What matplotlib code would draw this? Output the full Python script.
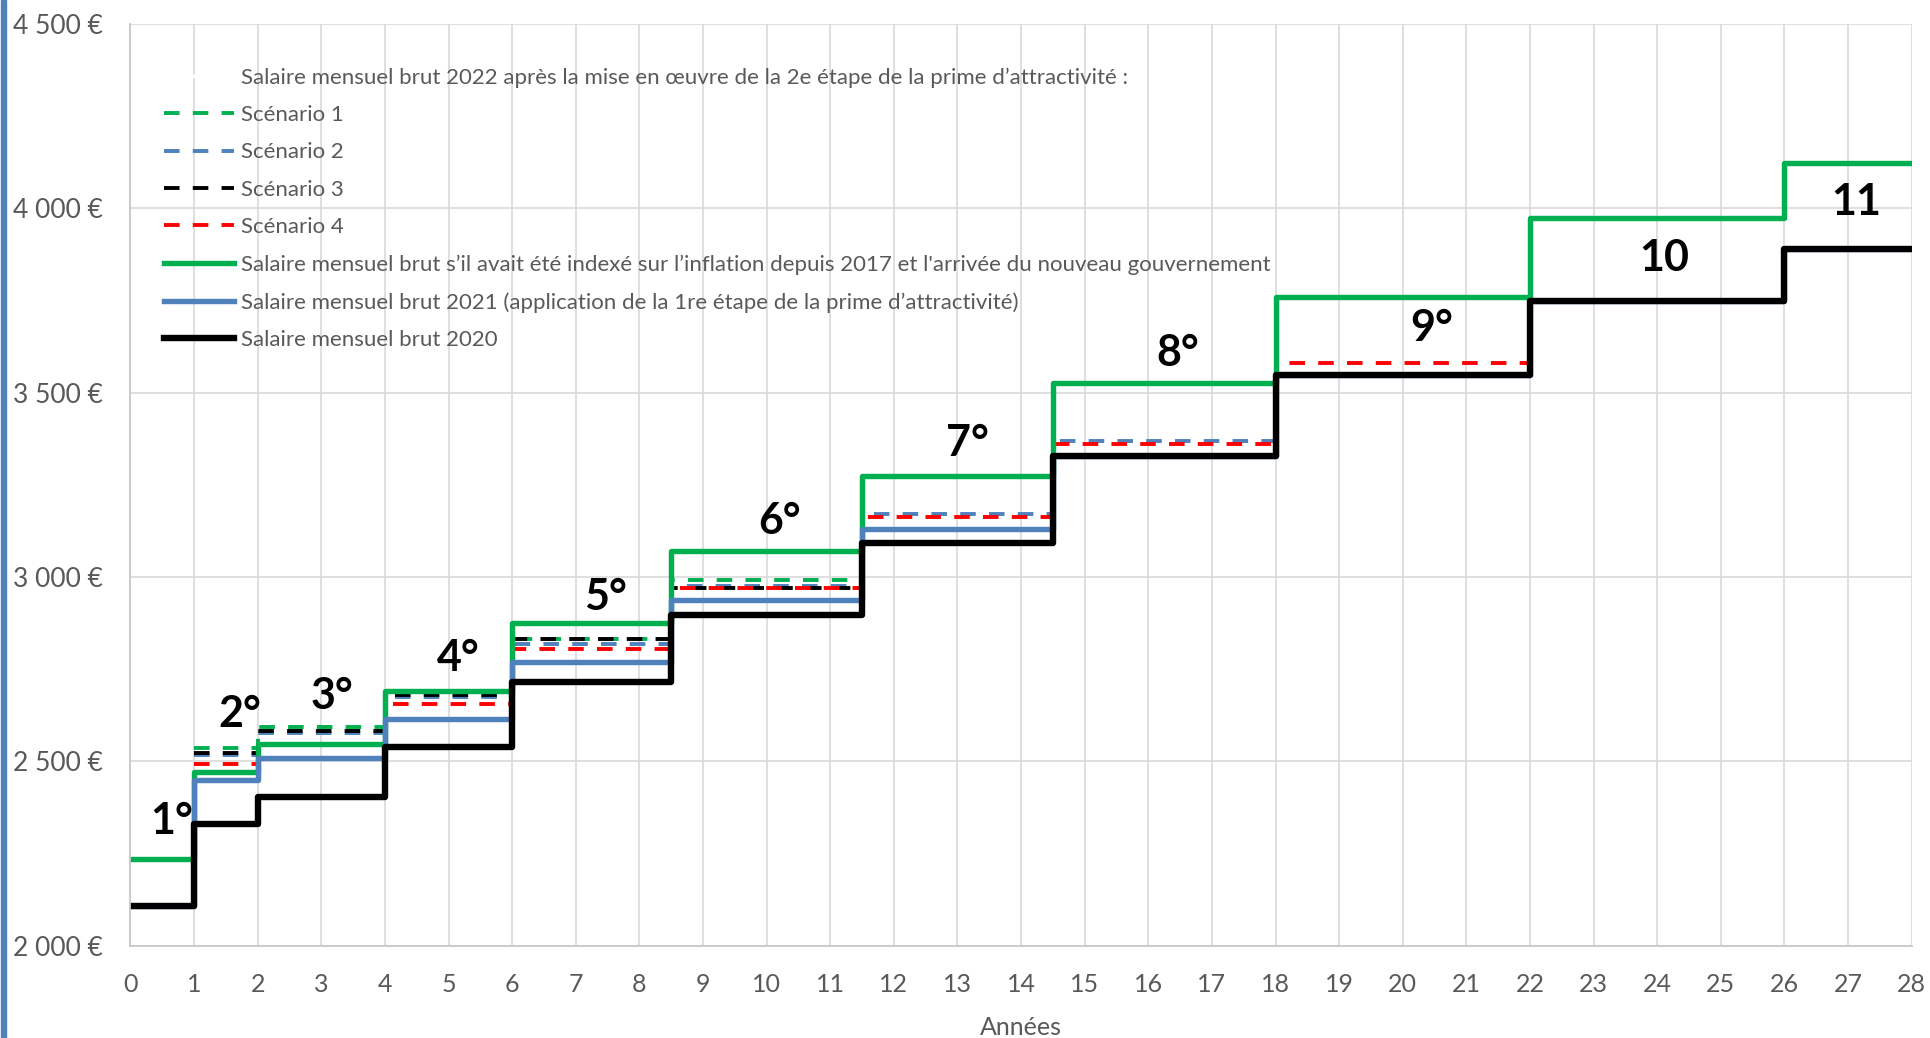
import matplotlib
matplotlib.use("Agg")
from matplotlib import pyplot as plt
from matplotlib.patches import Rectangle

plt.rcParams['font.family'] = ['Lato', 'DejaVu Sans']

# years where each echelon starts (last value = end of the chart)
annees = [0, 1, 2, 4, 6, 8.5, 11.5, 14.5, 18, 22, 26, 28]
echelons = ["1°", "2°", "3°", "4°", "5°", "6°", "7°", "8°", "9°", "10", "11"]

# monthly gross salaries per echelon
salaire_2020 = [2107, 2331, 2404, 2539, 2714, 2897, 3091, 3328, 3548, 3749, 3890]
salaire_inflation = [2234, 2471, 2547, 2691, 2876, 3070, 3274, 3527, 3760, 3974, 4124]
salaire_2021 = [2107, 2449, 2508, 2614, 2770, 2937, 3129, 3328, 3548, 3749, 3890]

# 2022 scenarios (start at year 1)
annees_sc1 = [1, 2, 4, 6, 8.5, 11.5]
scenario_1 = [2537, 2594, 2690, 2831, 2992]
annees_sc2 = [1, 2, 4, 6, 8.5, 11.5, 14.5, 18]
scenario_2 = [2517, 2576, 2673, 2818, 2975, 3171, 3369]
annees_sc3 = [1, 2, 4, 6, 8.5, 11.5]
scenario_3 = [2523, 2583, 2680, 2831, 2971]
annees_sc4 = [1, 2, 4, 6, 8.5, 11.5, 14.5, 18, 22]
scenario_4 = [2492, 2547, 2656, 2804, 2971, 3162, 3360, 3581]

# where the echelon labels sit (year, salary)
label_x = [0.64, 1.72, 3.17, 5.15, 7.47, 10.2, 13.16, 16.47, 20.46, 24.11, 27.13]
label_y = [2338, 2628, 2678, 2779, 2945, 3152, 3363, 3607, 3674, 3864, 4017]

legende_titre = "Salaire mensuel brut 2022 après la mise en œuvre de la 2e étape de la prime d’attractivité :"
legende = ["Scénario 1", "Scénario 2", "Scénario 3", "Scénario 4",
           "Salaire mensuel brut s’il avait été indexé sur l’inflation depuis 2017 et l'arrivée du nouveau gouvernement",
           "Salaire mensuel brut 2021 (application de la 1re étape de la prime d’attractivité)",
           "Salaire mensuel brut 2020"]

VERT = '#00b050'
BLEU = '#4f81bd'
NOIR = '#000000'
ROUGE = '#ff0000'
GRIS = '#595959'


def marches(x, y):
        #repeat last value so the final step reaches the end
        return x, list(y) + [y[-1]]


fig = plt.figure(figsize=(19.3, 10.38), dpi=100)
ax = fig.add_axes([0.0676, 0.0891, 0.9229, 0.8878])

# invisible entry used as legend title line
ax.plot([], [], color='white', lw=2.5, label=legende_titre)

dash = (4.0, 3.4)
for xs, ys, col, lab in [(annees_sc1, scenario_1, VERT, legende[0]),
                         (annees_sc2, scenario_2, BLEU, legende[1]),
                         (annees_sc3, scenario_3, NOIR, legende[2]),
                         (annees_sc4, scenario_4, ROUGE, legende[3])]:
        x, y = marches(xs, ys)
        ax.step(x, y, where='post', color=col, lw=2.8, dashes=dash, label=lab)

x, y = marches(annees, salaire_inflation)
ax.step(x, y, where='post', color=VERT, lw=3.9, label=legende[4])
x, y = marches(annees, salaire_2021)
ax.step(x, y, where='post', color=BLEU, lw=3.9, label=legende[5])
x, y = marches(annees, salaire_2020)
ax.step(x, y, where='post', color=NOIR, lw=4.6, label=legende[6])

for lx, ly, txt in zip(label_x, label_y, echelons):
        ax.text(lx, ly, txt, ha='center', va='center', fontsize=31,
                fontweight='bold', color='black')

ax.set_xlim(0, 28)
ax.set_ylim(2000, 4500)
ax.set_xticks(range(0, 29))
ax.set_yticks(range(2000, 4501, 500))
ax.set_yticklabels(["{:,} €".format(v).replace(",", " ") for v in range(2000, 4501, 500)])
ax.grid(True, color='#d9d9d9', lw=1.2)
ax.set_axisbelow(True)
for s in ['top', 'right']:
        ax.spines[s].set_visible(False)
for s in ['left', 'bottom']:
        ax.spines[s].set_color('#c8c8c8')
        ax.spines[s].set_linewidth(1.3)
ax.tick_params(axis='both', length=0, labelcolor=GRIS)
ax.tick_params(axis='y', pad=20, labelsize=19)
ax.tick_params(axis='x', pad=20, labelsize=18)
ax.set_xlabel("Années", fontsize=18, color=GRIS, labelpad=14)

leg = ax.legend(loc='upper left', bbox_to_anchor=(0.085, 0.935), bbox_transform=fig.transFigure,
                frameon=False, fontsize=16, handlelength=3.15, handletextpad=0.3,
                labelspacing=0.78, borderpad=0, borderaxespad=0)
for t in leg.get_texts():
        t.set_color(GRIS)

# blue border on the left edge of the picture
fig.patches.append(Rectangle((1 / 1930, 0), 5 / 1930, 1, transform=fig.transFigure,
                             color=BLEU, zorder=5))

fig.savefig('out.png', dpi=100)
